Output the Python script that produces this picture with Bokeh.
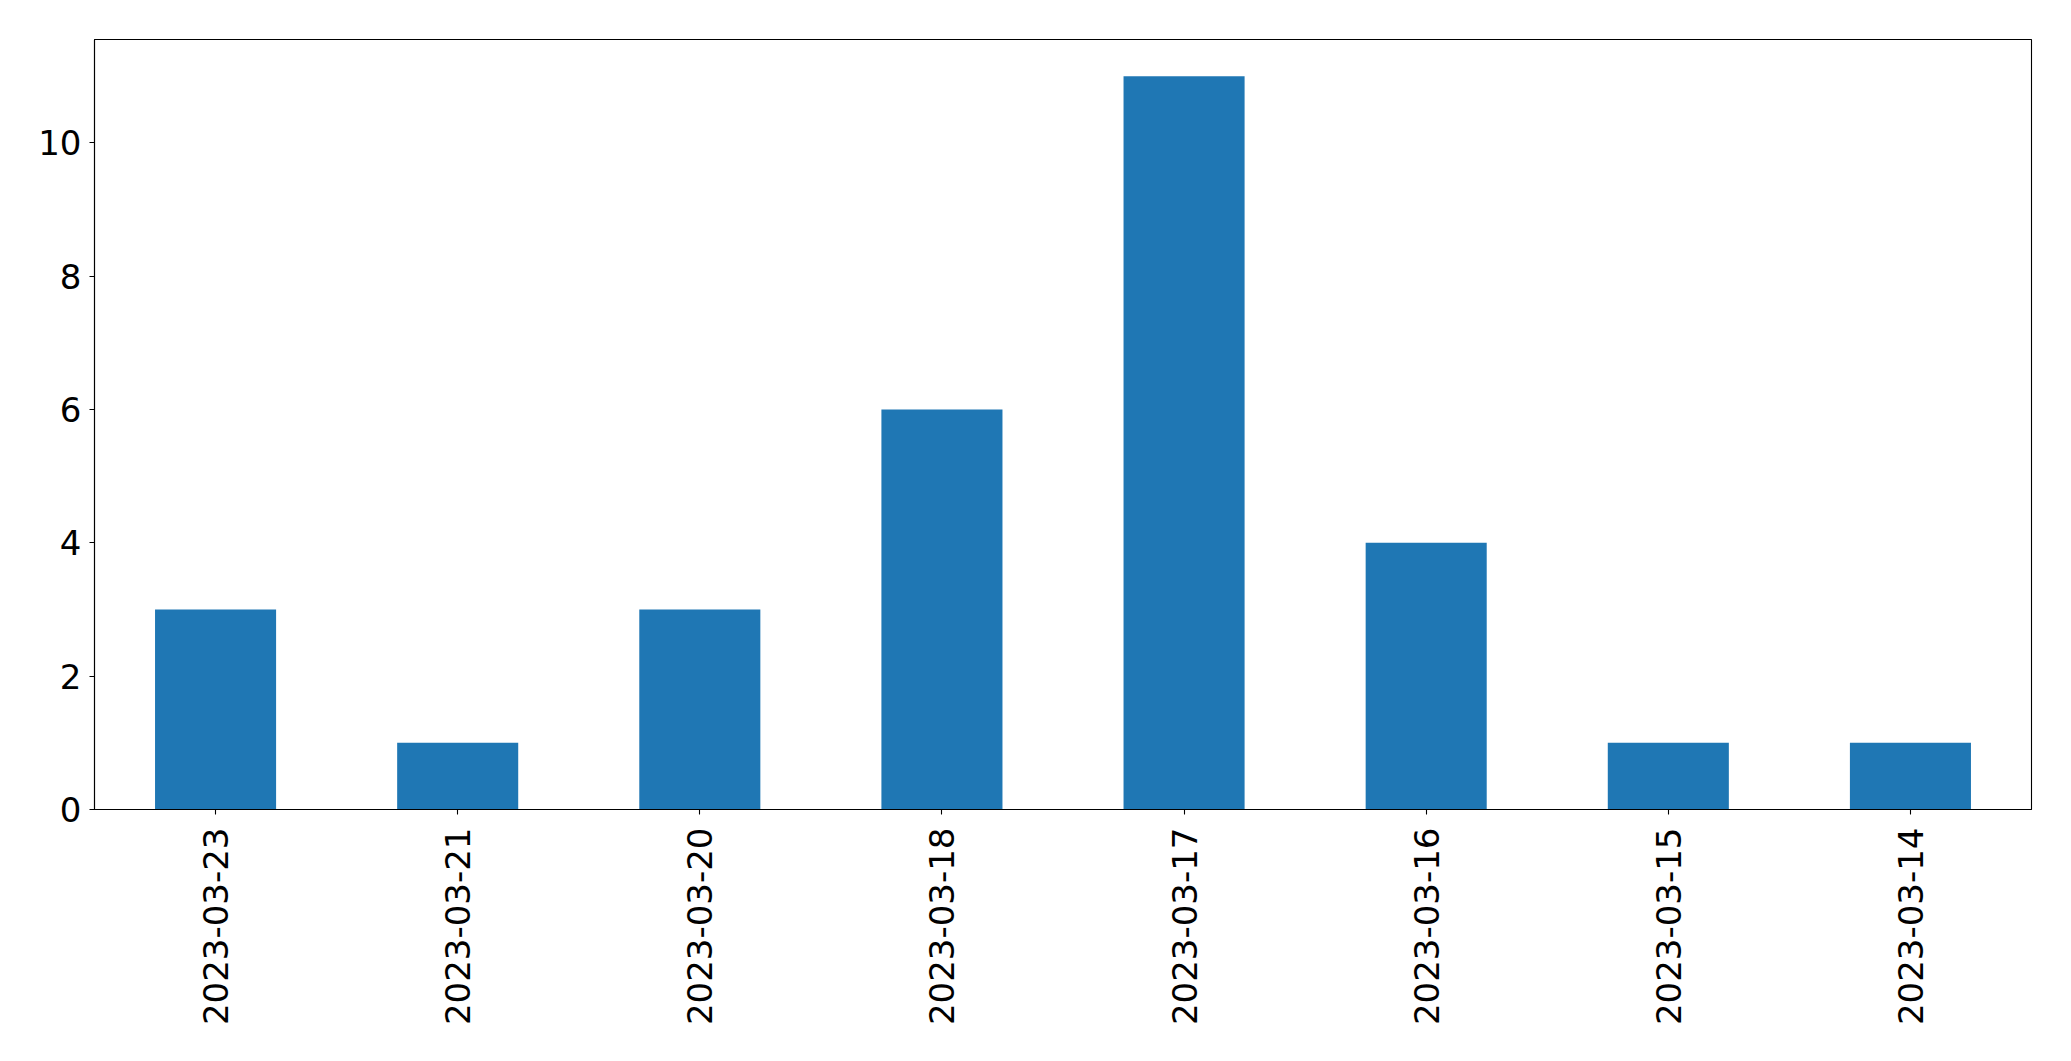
import math
from bokeh.plotting import figure
from bokeh.models import FixedTicker, Range1d, ColumnDataSource
from bokeh.embed import file_html
from bokeh.resources import INLINE

dates = ["2023-03-23", "2023-03-21", "2023-03-20", "2023-03-18",
         "2023-03-17", "2023-03-16", "2023-03-15", "2023-03-14"]
counts = [3, 1, 3, 6, 11, 4, 1, 1]
y_ticks = [0, 2, 4, 6, 8, 10]

src = ColumnDataSource(dict(date=dates, count=counts))

p = figure(x_range=dates, y_range=Range1d(0, 11.55),
           frame_width=1937, frame_height=770,
           min_border_left=94, min_border_top=39, min_border_right=31,
           min_border_bottom=236,
           output_backend="svg", toolbar_location=None)

p.vbar(x="date", top="count", width=0.5, source=src,
       fill_color="#1f77b4", line_color=None)

p.xgrid.grid_line_color = None
p.ygrid.grid_line_color = None
p.outline_line_color = "black"
p.outline_line_width = 1.1
p.outline_line_alpha = 1.0

p.yaxis.ticker = FixedTicker(ticks=y_ticks)
for ax in (p.xaxis[0], p.yaxis[0]):
    ax.axis_line_color = "black"
    ax.axis_line_width = 1.1
    ax.major_tick_line_color = "black"
    ax.major_tick_line_width = 1.1
    ax.major_tick_out = 5
    ax.major_tick_in = 0
    ax.minor_tick_line_color = None
    ax.major_label_text_font = "DejaVu Sans"
    ax.major_label_text_font_size = "34px"
    ax.major_label_text_color = "black"

p.yaxis.major_label_standoff = 8
p.xaxis.major_label_standoff = 13
p.xaxis.major_label_orientation = math.pi / 2

open("out.html", "w").write(file_html(p, INLINE))
